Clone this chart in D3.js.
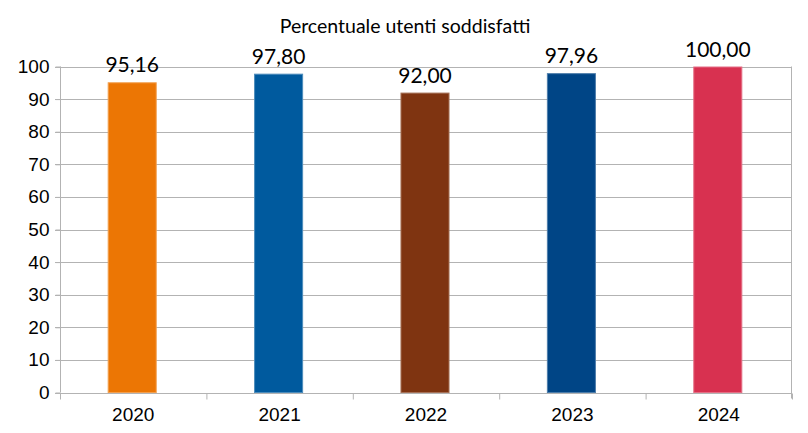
<!DOCTYPE html>
<html lang="it">
<head>
    <meta charset="UTF-8">
    <title>Percentuale utenti soddisfatti</title>
    <style>
        body { margin: 0; background: #fff; }
        .title { font-family: Lato, sans-serif; font-size: 19.5px; }
        .label { font-family: Lato, sans-serif; font-size: 21px; fill: #000; }
    </style>
    <script src="https://d3js.org/d3.v7.min.js"></script>
</head>
<body>
<div class="container"></div>
<script>
    const years = ["2020", "2021", "2022", "2023", "2024"];
    const values = [95.16, 97.80, 92.00, 97.96, 100.00];
    const colors = ["#ec7604", "#005a9e", "#7f3411", "#004586", "#d83150"];
    const yTicks = [0, 10, 20, 30, 40, 50, 60, 70, 80, 90, 100];

    const width = 808, height = 433;
    const margin = {top: 66.5, right: 16, bottom: 40.5, left: 60};

    const svg = d3.select(".container")
        .append("svg")
        .attr("width", width)
        .attr("height", height);

    const x = d3.scaleBand()
        .domain(years)
        .range([margin.left, width - margin.right])
        .paddingInner(0.665)
        .paddingOuter(0.3325);

    const y = d3.scaleLinear()
        .domain([0, 100])
        .range([height - margin.bottom, margin.top]);

    // title
    svg.append("text")
        .attr("class", "title")
        .attr("x", 405)
        .attr("y", 33)
        .attr("text-anchor", "middle")
        .text("Percentuale utenti soddisfatti");

    // gridlines
    svg.append("g")
        .selectAll("line")
        .data(yTicks)
        .join("line")
        .attr("x1", margin.left - 5)
        .attr("x2", width - margin.right)
        .attr("y1", d => Math.round(y(d)) + 0.5)
        .attr("y2", d => Math.round(y(d)) + 0.5)
        .attr("stroke", "#b3b3b3");

    // right border
    svg.append("line")
        .attr("x1", width - margin.right - 0.5)
        .attr("x2", width - margin.right - 0.5)
        .attr("y1", y(100))
        .attr("y2", y(0) + 6)
        .attr("stroke", "#b3b3b3");

    // y axis
    const yAxis = svg.append("g")
        .attr("transform", `translate(${margin.left + 0.5},0)`)
        .call(d3.axisLeft(y).tickValues(yTicks).tickSize(5).tickPadding(6));
    yAxis.attr("font-family", "'Liberation Sans', Arial, sans-serif").attr("font-size", 19);
    yAxis.selectAll("line, path").attr("stroke", "#b3b3b3");
    yAxis.selectAll("text").attr("fill", "#000");
    yAxis.select(".domain").attr("d", `M0,${y(100)}V${y(0)}`);

    // x axis with ticks at category boundaries
    const xAxis = svg.append("g")
        .attr("transform", `translate(0,${Math.round(y(0)) + 0.5})`)
        .call(d3.axisBottom(x).tickSize(0).tickPadding(14));
    xAxis.attr("font-family", "'Liberation Sans', Arial, sans-serif").attr("font-size", 19);
    xAxis.selectAll("text").attr("fill", "#000");
    xAxis.select(".domain").remove();
    xAxis.append("g")
        .selectAll("line")
        .data(d3.range(years.length + 1))
        .join("line")
        .attr("x1", i => margin.left + 0.5 + i * x.step())
        .attr("x2", i => margin.left + 0.5 + i * x.step())
        .attr("y1", 0)
        .attr("y2", 6)
        .attr("stroke", "#b3b3b3");

    // bars, with a slightly lighter edge like the original
    svg.append("g")
        .selectAll("rect")
        .data(values)
        .join("rect")
        .attr("x", (d, i) => x(years[i]) - 0.5)
        .attr("y", d => y(d) + 0.5)
        .attr("width", x.bandwidth() - 1)
        .attr("height", d => y(0) - y(d) - 0.5)
        .attr("fill", (d, i) => colors[i])
        .attr("stroke", (d, i) => d3.interpolateRgb(colors[i], "#fff")(0.3))
        .attr("stroke-width", 1);

    // value labels
    svg.append("g")
        .selectAll("text")
        .data(values)
        .join("text")
        .attr("class", "label")
        .attr("x", (d, i) => x(years[i]) - 1 + x.bandwidth() / 2)
        .attr("y", d => y(d) - 10)
        .attr("text-anchor", "middle")
        .text(d => d3.format(".2f")(d).replace(".", ","));
</script>
</body>
</html>
